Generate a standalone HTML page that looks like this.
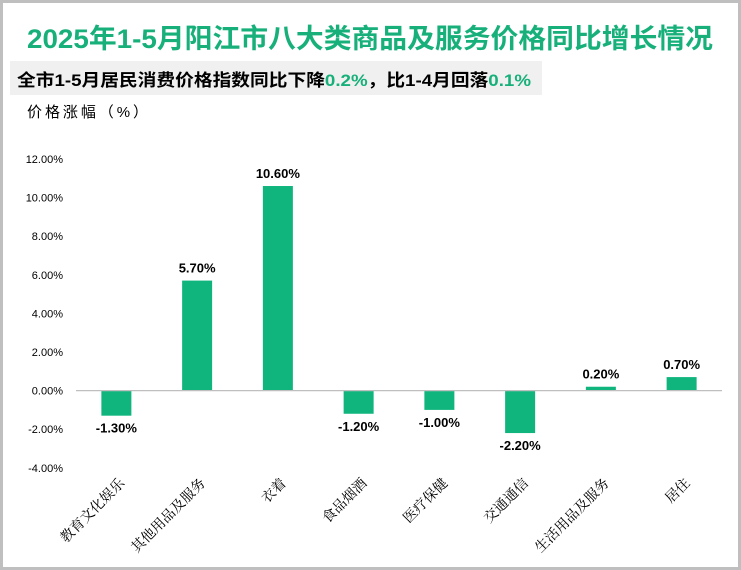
<!DOCTYPE html>
<html><head><meta charset="utf-8"><style>
html,body{margin:0;padding:0;background:#fff}
svg{display:block}
</style></head><body>
<svg id="chart" width="741" height="570" xmlns="http://www.w3.org/2000/svg">
<rect x="1.5" y="1.5" width="738" height="567" fill="#fff" stroke="#bfbfbf" stroke-width="3"/>
<text x="27" y="48" textLength="686" lengthAdjust="spacingAndGlyphs" font-family="'Liberation Sans','Noto Sans CJK SC',sans-serif" font-size="27" font-weight="bold" fill="#17b07a">2025年1-5月阳江市八大类商品及服务价格同比增长情况</text>
<rect x="10" y="61" width="532" height="34" fill="#f0f0f0"/>
<text x="17" y="86" textLength="514" lengthAdjust="spacingAndGlyphs" font-family="'Liberation Sans','Noto Sans CJK SC',sans-serif" font-size="17" font-weight="bold" fill="#000">全市1-5月居民消费价格指数同比下降<tspan fill="#17b07a">0.2%</tspan>，比1-4月回落<tspan fill="#17b07a">0.1%</tspan></text>
<text x="27" y="117" textLength="121" font-family="'Liberation Sans','Noto Sans CJK SC',sans-serif" font-size="15" fill="#000">价格涨幅（%）</text>
<g id="plot"></g>
</svg>
<script>
const categories=["教育文化娱乐","其他用品及服务","衣着","食品烟酒","医疗保健","交通通信","生活用品及服务","居住"];
const values=[-1.3,5.7,10.6,-1.2,-1.0,-2.2,0.2,0.7];
const valueLabels=["-1.30%","5.70%","10.60%","-1.20%","-1.00%","-2.20%","0.20%","0.70%"];
const ticks=[12,10,8,6,4,2,0,-2,-4];
const tickLabels=["12.00%","10.00%","8.00%","6.00%","4.00%","2.00%","0.00%","-2.00%","-4.00%"];
const NS="http://www.w3.org/2000/svg";
const g=document.getElementById('plot');
const x0=76,x1=722,step=(x1-x0)/categories.length;
function y(v){return 390.6-v*19.3;}
function xc(i){return x0+step*(i+0.5);}
function el(t,a){const e=document.createElementNS(NS,t);for(const k in a)e.setAttribute(k,a[k]);g.appendChild(e);return e;}
const F="'Liberation Sans','Noto Sans CJK SC',sans-serif";
ticks.forEach((t,i)=>{
 const e=el('text',{x:63,y:y(t)+4,'text-anchor':'end','font-family':F,'font-size':11,fill:'#000'});
 
 
 e.textContent=tickLabels[i];
});
values.forEach((v,i)=>{
 const w=30,top=Math.min(y(v),y(0)),h=Math.abs(y(v)-y(0));
 const r=el('rect',{x:xc(i)-w/2,y:top,width:w,height:h,fill:'#10b57e'});
 
 
 const ly=v>=0?y(v)-8:y(v)+17;
 const t=el('text',{x:xc(i),y:ly,'text-anchor':'middle','font-family':F,'font-size':13,'font-weight':'bold',fill:'#000'});
 
 
 t.textContent=valueLabels[i];
 const cx=xc(i)+9,cy=484;
 const c=el('text',{x:cx,y:cy,'text-anchor':'end','font-family':"'Liberation Serif','Noto Serif CJK SC',serif",'font-size':14,fill:'#000',transform:`rotate(-45 ${cx} ${cy})`});
 
 
 c.textContent=categories[i];
});
const ax=el('line',{x1:x0,x2:x1,y1:y(0),y2:y(0),stroke:'#bfbfbf','stroke-width':1.2});


</script>
</body></html>
